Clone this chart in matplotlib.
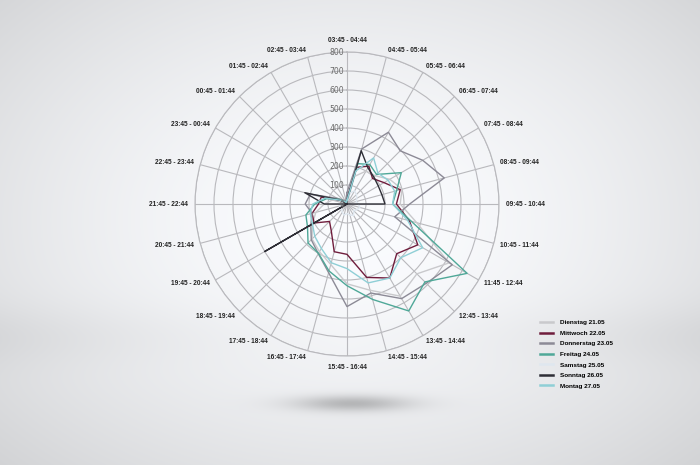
import numpy as np
import matplotlib
matplotlib.use("Agg")
import matplotlib.pyplot as plt

# time slots, starting at the top and going clockwise
slots = ["03:45 - 04:44", "04:45 - 05:44", "05:45 - 06:44", "06:45 - 07:44",
         "07:45 - 08:44", "08:45 - 09:44", "09:45 - 10:44", "10:45 - 11:44",
         "11:45 - 12:44", "12:45 - 13:44", "13:45 - 14:44", "14:45 - 15:44",
         "15:45 - 16:44", "16:45 - 17:44", "17:45 - 18:44", "18:45 - 19:44",
         "19:45 - 20:44", "20:45 - 21:44", "21:45 - 22:44", "22:45 - 23:44",
         "23:45 - 00:44", "00:45 - 01:44", "01:45 - 02:44", "02:45 - 03:44"]

dienstag = [20, 150, 200, 210, 260, 300, 280, 380, 620, 520, 560, 470,
            420, 330, 290, 260, 210, 170, 120, 80, 40, 20, 10, 10]
mittwoch = [30, 200, 230, 190, 225, 290, 260, 340, 430, 370, 450, 400,
            265, 260, 165, 130, 200, 190, 150, 140, 40, 20, 15, 15]
donnerstag = [60, 300, 436, 396, 460, 530, 330, 260, 640, 590, 575, 485,
              540, 374, 302, 266, 220, 190, 220, 200, 60, 30, 20, 20]
freitag = [20, 220, 240, 220, 330, 270, 240, 350, 730, 580, 650, 520,
           430, 365, 300, 290, 240, 224, 170, 110, 50, 20, 10, 10]
samstag = [10, 60, 80, 70, 60, 50, 60, 70, 60, 50, 70, 60,
           50, 60, 50, 40, 50, 40, 30, 20, 10, 10, 5, 5]
sonntag = [20, 290, 220, 200, 190, 190, 200, 0, 0, 0, 0, 0,
           0, 0, 0, 0, 500, 0, 120, 230, 40, 0, 0, 0]
montag = [20, 180, 280, 230, 250, 260, 240, 330, 460, 400, 450, 430,
          340, 320, 270, 240, 210, 200, 180, 120, 40, 20, 10, 10]

series = [
    ("Dienstag 21.05", dienstag, "#c9c9cc"),
    ("Mittwoch 22.05", mittwoch, "#6f1d3c"),
    ("Donnerstag 23.05", donnerstag, "#8c8a96"),
    ("Freitag 24.05", freitag, "#4fa898"),
    ("Samstag 25.05", samstag, "#dfe7ef"),
    ("Sonntag 26.05", sonntag, "#2e2e36"),
    ("Montag 27.05", montag, "#8fcfd6"),
]
r_ticks = [0, 100, 200, 300, 400, 500, 600, 700, 800]

W, H = 700, 465
fig = plt.figure(figsize=(W / 100, H / 100), dpi=100)

# studio style backdrop with a soft shadow
yy, xx = np.mgrid[0:H, 0:W]
d = np.sqrt(((xx - 350) / 430.0) ** 2 + ((yy - 220) / 300.0) ** 2)
shade = 1.0 - 0.13 * np.clip(d, 0, 1.2) ** 1.6
floor = 0.035 * np.exp(-((yy - 335) / 30.0) ** 2) * np.clip(np.abs(xx - 350) / 350.0, 0, 1)
shade = shade - floor
shadow = np.exp(-(((xx - 352) / 58.0) ** 2 + ((yy - 403) / 8.0) ** 2))
shade = shade - 0.22 * shadow
img = np.dstack([shade * 0.985, shade * 0.99, shade * 1.0])
img = np.clip(img, 0, 1)
bg = fig.add_axes([0, 0, 1, 1])
bg.imshow(img, extent=[0, W, H, 0], aspect="auto")
bg.axis("off")

cx, cy, R = 347, 204, 152
ax = fig.add_axes([(cx - R) / W, 1 - (cy + R) / H, 2 * R / W, 2 * R / H], projection="polar")
ax.patch.set_alpha(0)
ax.set_theta_zero_location("N")
ax.set_theta_direction(-1)

angles = np.deg2rad(np.arange(len(slots)) * 360.0 / len(slots))
ax.set_xticks(angles)
ax.set_xticklabels([])
ax.set_yticks(r_ticks[1:])
ax.set_yticklabels([])
ax.set_ylim(0, 800)
ax.grid(True, color="#b9b9bd", linewidth=0.8)
ax.spines["polar"].set_color("#b9b9bd")
ax.spines["polar"].set_linewidth(0.8)

closed = np.append(angles, angles[0])
for name, vals, col in series:
    v = np.append(vals, vals[0])
    ax.plot(closed, v, color=col, linewidth=1.0, label=name, zorder=3)

for r in r_ticks:
    ax.annotate(str(r), xy=(0, r), xytext=(-2.0, 0), textcoords="offset points",
                ha="right", va="center", fontsize=5.6, color="#6a6a6a",
                annotation_clip=False)

for a, lab in zip(angles, slots):
    s = np.sin(a)
    if abs(s) < 0.05:
        ha = "center"
    elif s > 0:
        ha = "left"
    else:
        ha = "right"
    rr = 860 if ha == "center" else 835
    ax.text(a, rr, lab, ha=ha, va="center", fontsize=4.7, fontweight="bold",
            family="Liberation Sans", color="#222222", clip_on=False)

leg = fig.legend(loc="upper left", bbox_to_anchor=(534 / W, 1 - 314 / H), frameon=False,
                 prop={"family": "Liberation Sans", "weight": "bold", "size": 4.6},
                 handlelength=2.0, handletextpad=1.1, labelspacing=0.8)
for line in leg.get_lines():
    line.set_linewidth(1.8)

fig.savefig("out.png", dpi=100)
